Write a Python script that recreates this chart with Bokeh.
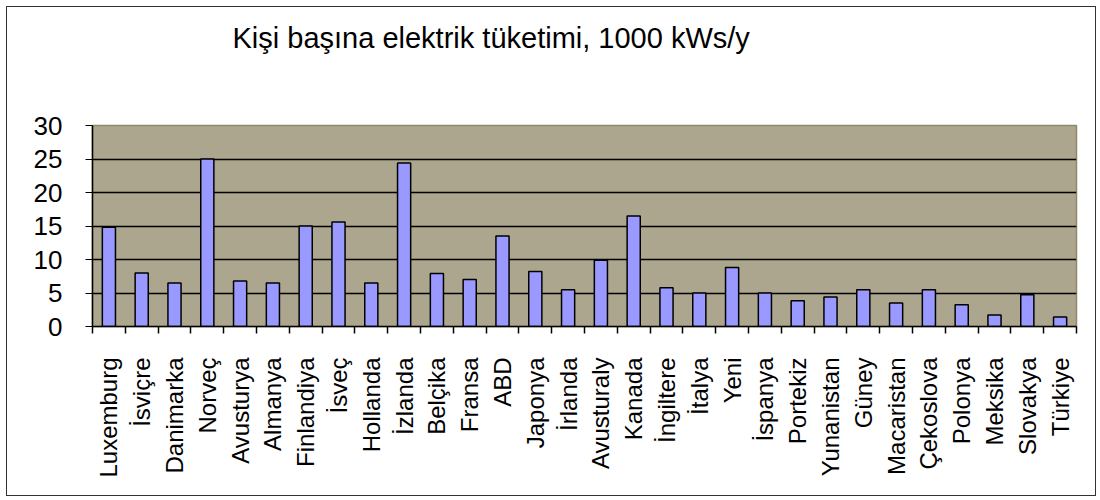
import math
from bokeh.plotting import figure
from bokeh.models import Range1d, FixedTicker, LinearAxis, Title, Grid
from bokeh.embed import file_html
from bokeh.resources import INLINE

countries = ["Luxemburg", "İsviçre", "Danimarka", "Norveç", "Avusturya", "Almanya",
             "Finlandiya", "İsveç", "Hollanda", "İzlanda", "Belçika", "Fransa", "ABD",
             "Japonya", "İrlanda", "Avusturaly", "Kanada", "İngiltere", "İtalya", "Yeni",
             "İspanya", "Portekiz", "Yunanistan", "Güney", "Macaristan", "Çekoslova",
             "Polonya", "Meksika", "Slovakya", "Türkiye"]
consumption = [14.8, 8.0, 6.5, 25.0, 6.8, 6.5, 15.0, 15.6, 6.5, 24.4, 7.9, 7.0, 13.5,
               8.2, 5.5, 9.9, 16.5, 5.8, 5.0, 8.8, 5.0, 3.85, 4.4, 5.5, 3.5, 5.5, 3.25,
               1.7, 4.75, 1.4]
y_ticks = [0, 5, 10, 15, 20, 25, 30]
title_text = "Kişi başına elektrik tüketimi, 1000 kWs/y"

FONT = "Liberation Sans"
idx = list(range(len(countries)))

p = figure(width=1090, height=490, output_backend="svg", toolbar_location=None,
           x_range=Range1d(-0.5, len(countries) - 0.5), y_range=Range1d(0, 30),
           x_axis_location=None, y_axis_location=None,
           min_border_left=85, min_border_right=21, min_border_top=118,
           min_border_bottom=171)
for g in p.grid:
    g.visible = False
p.styles = {"border": "1px solid #333333", "box-sizing": "border-box",
            "margin-left": "6px", "margin-top": "6px"}

p.background_fill_color = "#ACA68E"
p.border_fill_color = "white"
p.outline_line_color = "#8B8B68"
p.outline_line_width = 1.5

# spacer between frame and title, then the title itself
spacer = Title(text=" ", text_font_size="1px", standoff=64)
p.add_layout(spacer, "above")
t = Title(text=title_text, align="left", offset=140, standoff=10,
          vertical_align="bottom", text_font=FONT, text_font_size="29px",
          text_font_style="normal", text_color="black")
p.add_layout(t, "above")

p.vbar(x=idx, top=consumption, width=0.4, bottom=0,
       fill_color="#9999FF", line_color="black", line_width=1.5)

yax = LinearAxis(ticker=FixedTicker(ticks=y_ticks, minor_ticks=[]))
yax.major_label_text_font = FONT
yax.major_label_text_font_size = "26px"
yax.major_label_text_color = "black"
yax.major_tick_out = 7
yax.major_tick_in = 0
yax.major_tick_line_color = "black"
yax.major_label_standoff = 23
yax.axis_line_color = "black"
yax.axis_line_width = 1.5
p.add_layout(yax, "left")

xax = LinearAxis(ticker=FixedTicker(ticks=idx, minor_ticks=[i - 0.5 for i in range(len(countries) + 1)]))
xax.major_label_overrides = {i: c for i, c in zip(idx, countries)}
xax.major_label_orientation = math.pi / 2
xax.major_label_text_font = FONT
xax.major_label_text_font_size = "24px"
xax.major_label_text_color = "black"
xax.major_tick_out = 0
xax.major_tick_in = 0
xax.minor_tick_out = 7
xax.minor_tick_in = 0
xax.minor_tick_line_color = "black"
xax.minor_tick_line_width = 1.5
xax.major_label_standoff = 24
xax.axis_line_color = "black"
xax.axis_line_width = 1.5
p.add_layout(xax, "below")

p.add_layout(Grid(dimension=1, ticker=yax.ticker, grid_line_color="black",
                  grid_line_width=1.5))

open("out.html", "w").write(file_html(p, INLINE))
